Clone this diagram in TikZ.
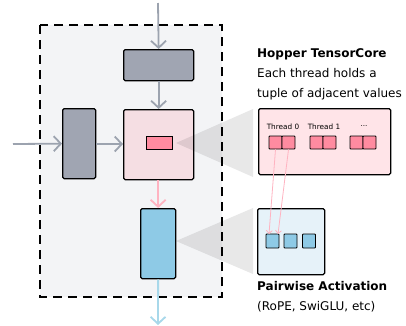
\documentclass[tikz,border=0pt]{standalone}
\usepackage{fontspec}
\setmainfont{DejaVu Sans}
\usetikzlibrary{arrows.meta}
\definecolor{bgray}{HTML}{A0A5B2}
\definecolor{agray}{HTML}{9CA3AF}
\definecolor{pinksq}{HTML}{F5DEE3}
\definecolor{redr}{HTML}{FF8BA0}
\definecolor{bluer}{HTML}{8ECAE6}
\definecolor{parrow}{HTML}{FFB3C1}
\definecolor{barrow}{HTML}{A8D8EA}
\definecolor{zpink}{HTML}{FFE4E8}
\definecolor{zblue}{HTML}{E6F2F9}
\definecolor{dashbg}{HTML}{F3F4F6}
\tikzset{
  box/.style={draw=black, line width=1.3pt, rounded corners=1.5pt, inner sep=0pt, anchor=north west},
  arr/.style={line width=1.8pt, -{Straight Barb[length=7pt,width=15pt,line width=1.8pt]}},
  cell/.style={draw=black, line width=0.9pt, fill=redr, minimum width=13pt, minimum height=13pt, inner sep=0pt, rounded corners=0.8pt},
  bcell/.style={draw=black, line width=0.9pt, fill=bluer, minimum width=13pt, minimum height=14pt, inner sep=0pt, rounded corners=0.8pt},
  callout/.style={fill=black, fill opacity=0.09},
  lbl/.style={anchor=base west, inner sep=0pt, font=\fontsize{12}{14}\selectfont},
  tlbl/.style={font=\fontsize{7.3}{8}\selectfont, inner sep=0pt},
}
\begin{document}
\begin{tikzpicture}[x=1pt,y=-1pt]
\useasboundingbox (0,0) rectangle (406,325);
% dashed region
\fill[dashbg] (40,25) rectangle (222,297);
% boxes
\node[box, fill=bgray, minimum width=70pt, minimum height=31pt] (top) at (123,49) {};
\node[box, fill=pinksq, minimum width=70pt, minimum height=70pt] (core) at (123,109) {};
\node[box, fill=bgray, minimum width=33pt, minimum height=70pt] (left) at (62,108) {};
\node[box, fill=bluer, minimum width=35pt, minimum height=70pt] (act) at (140,208) {};
\node[draw=black, line width=0.9pt, fill=redr, minimum width=26pt, minimum height=13pt, inner sep=0pt] (red) at (159,142.5) {};
% zoom boxes
\node[box, fill=zpink, minimum width=132pt, minimum height=66pt] (zp) at (258,108) {};
\node[box, fill=zblue, minimum width=67pt, minimum height=66pt] (zb) at (257,208) {};
% callouts
\coordinate (ap1) at (176,143);
\coordinate (ap2) at (176,241);
\fill[callout] (ap1) -- (253,109) -- (253,177) -- cycle;
\fill[callout] (ap2) -- (253,208) -- (253,274) -- cycle;
% dashed border
\draw[line width=1.5pt, dash pattern=on 9pt off 6pt] (40,25) rectangle (222,297);
% arrows
\coordinate (in1) at (158,3);
\coordinate (in2) at (13,144);
\coordinate (out) at (158,325);
\draw[arr, agray] (in1) -- (top.north);
\draw[arr, agray] (top.south) -- (top.south |- core.north);
\draw[arr, agray] (in2) -- (left.west);
\draw[arr, agray] (left.east |- 0,144) -- (core.west |- 0,144);
\draw[arr, parrow] (core.south -| act.north) -- (act.north);
\draw[arr, barrow] (act.south) -- (out);
% threads
\node[tlbl] (t0) at (283,127) {Thread 0};
\node[tlbl] (t1) at (324,127) {Thread 1};
\node[tlbl] (t2) at (364,126) {...};
\node[cell] (c0a) at (275.5,142.5) {};
\node[cell] (c0b) at (288.5,142.5) {};
\node[cell] (c1a) at (316.5,142.5) {};
\node[cell] (c1b) at (329.5,142.5) {};
\node[cell] (c2a) at (356.5,142.5) {};
\node[cell] (c2b) at (369.5,142.5) {};
% blue cells
\node[bcell] (b0) at (272.5,241) {};
\node[bcell] (b1) at (290.5,241) {};
\node[bcell] (b2) at (309,241) {};
% pink lines
\coordinate (e0) at (269,234);
\coordinate (e1) at (278,234);
\draw[parrow, line width=0.8pt, -{Straight Barb[length=3pt,width=6pt]}] (c0a.south) -- (e0);
\draw[parrow, line width=0.8pt, -{Straight Barb[length=3pt,width=6pt]}] (c0b.south) -- (e1);
% labels
\node[lbl, font=\fontsize{12}{14}\selectfont\bfseries] (h1) at (257,57) {Hopper TensorCore};
\node[lbl] (h2) at (257,77) {Each thread holds a};
\node[lbl] (h3) at (257,97) {tuple of adjacent values};
\node[lbl, font=\fontsize{12}{14}\selectfont\bfseries] (p1) at (257,290) {Pairwise Activation};
\node[lbl] (p2) at (257,310) {(RoPE, SwiGLU, etc)};
\end{tikzpicture}
\end{document}
